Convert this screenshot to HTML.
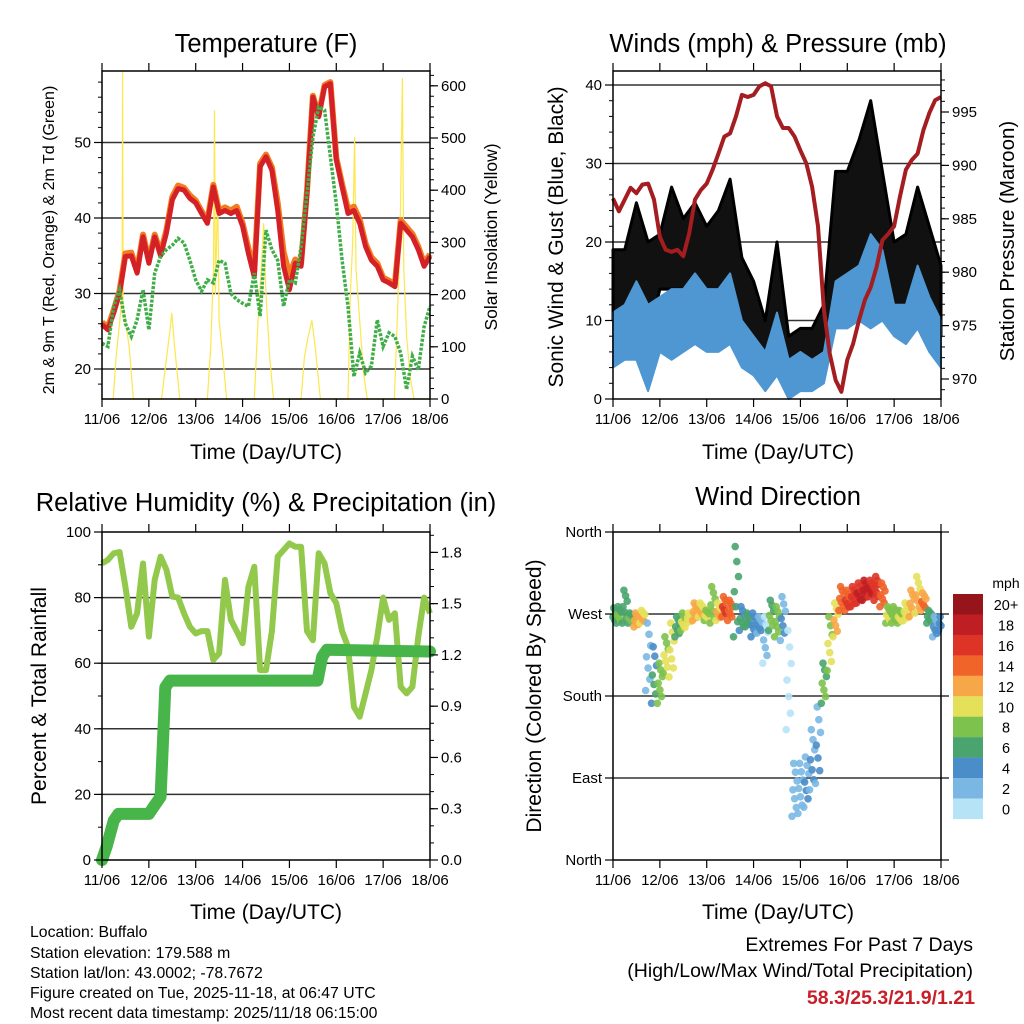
<!DOCTYPE html>
<html><head><meta charset="utf-8"><style>
html,body{margin:0;padding:0;background:#fff;}
svg{display:block;font-family:"Liberation Sans",Arial,sans-serif;}
</style></head><body>
<svg id="chart" width="1024" height="1024" viewBox="0 0 1024 1024" xmlns="http://www.w3.org/2000/svg">
<rect x="0" y="0" width="1024" height="1024" fill="#fff"/>
<text x="266" y="52" font-size="25.5" text-anchor="middle">Temperature (F)</text>
<text x="778" y="52" font-size="25.5" text-anchor="middle">Winds (mph) &amp; Pressure (mb)</text>
<text x="266" y="511" font-size="25.5" text-anchor="middle">Relative Humidity (%) &amp; Precipitation (in)</text>
<text x="778" y="505" font-size="25.5" text-anchor="middle">Wind Direction</text>
<text x="266" y="459" font-size="21" text-anchor="middle">Time (Day/UTC)</text>
<text x="778" y="459" font-size="21" text-anchor="middle">Time (Day/UTC)</text>
<text x="266" y="919" font-size="21" text-anchor="middle">Time (Day/UTC)</text>
<text x="778" y="919" font-size="21" text-anchor="middle">Time (Day/UTC)</text>
<text transform="translate(54,240) rotate(-90)" font-size="16" text-anchor="middle">2m &amp; 9m T (Red, Orange) &amp; 2m Td (Green)</text>
<text transform="translate(497,237) rotate(-90)" font-size="17.5" text-anchor="middle">Solar Insolation (Yellow)</text>
<text transform="translate(563,237) rotate(-90)" font-size="21" text-anchor="middle">Sonic Wind &amp; Gust (Blue, Black)</text>
<text transform="translate(1014,241) rotate(-90)" font-size="20.5" text-anchor="middle">Station Pressure (Maroon)</text>
<text transform="translate(46,696) rotate(-90)" font-size="21" text-anchor="middle">Percent &amp; Total Rainfall</text>
<text transform="translate(541,696) rotate(-90)" font-size="21" text-anchor="middle">Direction (Colored By Speed)</text>
<g font-size="15.8">
<text x="30" y="937">Location: Buffalo</text>
<text x="30" y="958">Station elevation: 179.588 m</text>
<text x="30" y="978">Station lat/lon: 43.0002; -78.7672</text>
<text x="30" y="998">Figure created on Tue, 2025-11-18, at 06:47 UTC</text>
<text x="30" y="1018">Most recent data timestamp: 2025/11/18 06:15:00</text>
</g>
<text x="973" y="951" font-size="19.5" text-anchor="end">Extremes For Past 7 Days</text>
<text x="973" y="977" font-size="19.5" text-anchor="end">(High/Low/Max Wind/Total Precipitation)</text>
<text x="975" y="1004" font-size="19.5" font-weight="bold" fill="#c8202a" text-anchor="end">58.3/25.3/21.9/1.21</text>
<g id="layer"></g>
</svg>
<script>
// ---- data ----
const days = ["11/06","12/06","13/06","14/06","15/06","16/06","17/06","18/06"];
const tStep = 0.125;
const temp2m = [25.9,25.2,27.4,30,34.9,35,32.7,37.5,34,37.5,35,38,42.4,43.9,43.7,42.6,42,40.6,39.3,44.1,40.6,41,40.6,41,38.9,35.3,32.2,46.8,48.1,46.3,41,33.6,30.5,34,33.6,43.3,56,53.4,57.4,57.8,47.7,44.1,40.6,41,39.3,36.2,34.4,33.6,31.8,31.4,30.9,39.3,38.4,37.5,35.8,33.6,34.9];
const temp9m = [26.2,25.5,27.8,30.4,35.3,35.4,33,37.8,34.4,37.8,35.4,38.4,42.8,44.3,44,43,42.3,40.9,39.6,44.4,41,41.4,41,41.5,39.3,36,33,47.2,48.4,46.7,42,35.5,32.5,34.5,34,43.6,56.2,53.6,57.6,58,48,44.5,41.2,41.5,39.8,36.6,34.8,34,32.1,31.7,31.2,39.7,38.8,37.9,36.2,34,35.2];
const dewpt = [23.4,23,28.3,30.5,26,24.3,26.5,30.5,25.2,32.7,34.9,35.8,36.4,37.3,36.7,34.4,31.8,30.3,31.8,31.4,34.4,34,30,29.2,28.7,28.3,32.7,27,38.4,35.8,34.4,28.3,31.8,31.4,36.2,43.3,50.7,54.7,54.3,48.1,41.9,34.4,28.3,19,22.1,19.5,20.4,26.5,23,24.8,24.3,22.1,17.3,21.7,19.9,25.6,28.3];
const solarT = [0,0.24,0.3,0.38,0.43,0.44,0.45,0.5,0.58,0.67,1.27,1.35,1.45,1.49,1.55,1.66,2.25,2.32,2.38,2.40,2.42,2.47,2.5,2.58,2.66,3.25,3.33,3.4,3.45,3.5,3.58,3.66,4.25,4.32,4.4,4.48,4.55,4.66,5.25,5.3,5.35,5.39,5.42,5.5,5.58,5.66,6.24,6.3,6.36,6.41,6.44,6.5,6.58,6.66,7];
const solarV = [0,0,80,150,200,629,180,150,100,0,0,60,130,165,100,0,0,100,250,553,200,400,150,80,0,0,150,250,337,200,80,0,0,80,120,151,100,0,0,200,300,502,250,150,50,0,0,150,300,615,250,120,40,0,0];
const pressure = [986.9,985.7,986.8,987.9,987.4,988.2,988.3,986.8,983.3,982.1,981.9,982.1,981.5,983.6,986.8,987.7,988.3,989.6,991.1,992.7,993,994.6,996.6,996.4,996.6,997.4,997.7,997.4,994.6,993.5,993.5,992.7,991.4,990.2,988,984.3,976.5,972.4,969.9,968.8,971.8,973.3,975.5,977.4,978.6,980.5,983,983.6,984.3,987.1,989.6,990.5,991.1,993.3,994.9,996.1,996.4];
const wStep = 0.25;
const windLo = [4,5,5,1,6,5,6,7,6,6,7,4,3,1,3,0,1,1,2,9,9,10,9,10,8,7,9,6,4];
const windHi = [11,12,15,12,13,14,14,16,14,14,16,10,8,6,11,5,6,5,6,15,16,17,21,19,12,12,17,13,10];
const gustLo = [10,12,14,8,14,14,14,15,13,13,13,8,5,3,9,2,3,3,4,13,14,15,17,14,11,12,15,12,8];
const gustHi = [19,19,25,20,21,27,23,25,22,24,28,18,15,10,20,8,9,9,12,29,29,33,38,29,20,21,27,22,17];
const rh = [90.4,91.5,93.5,93.9,83.3,71.1,75.2,90.4,68.1,85.4,92.5,88.5,80.3,80,75.2,71.1,69.1,69.8,69.8,61,63,85.4,73.2,69.8,66.1,83.3,89.4,57.9,57.9,69.8,92.5,94.5,96.5,95.5,95.5,69.8,67,93.5,90.4,81.3,78.3,69.8,65,46.7,43.7,50.8,57.9,68.1,80,73.2,75.2,52.8,50.8,52.8,68.1,80,75.2];
const precipT = [0,0.1,0.25,0.35,1.0,1.1,1.25,1.35,1.45,4.6,4.7,4.8,7.0];
const precipV = [0,0.08,0.23,0.27,0.27,0.31,0.37,1.01,1.05,1.05,1.19,1.23,1.22];
const dirLo = [260,260,260,260,256,260,186,172,172,205,201,245,252,260,263,267,263,260,263,267,263,245,252,256,245,249,216,252,245,241,143,48,51,58,77,84,172,208,245,274,274,278,282,285,289,285,278,260,260,260,263,267,271,274,260,245,252];
const dirHi = [280,278,296,271,271,274,260,234,216,245,260,267,271,271,282,282,274,300,282,289,285,344,278,271,271,267,267,285,278,289,252,106,106,113,143,168,216,267,282,300,296,300,304,307,307,311,304,278,278,274,282,296,311,293,274,267,267];
const dirSpd = [7,8,7,8,13,12,3,6,9,10,11,7,10,11,13,12,10,9,12,16,15,7,6,7,5,4,2,8,9,4,1,3,3,4,4,4,8,10,12,15,16,17,18,19,18,17,15,10,9,10,11,13,12,14,7,4,5];
const spdColors = ["#b7e3f7","#7ab8e3","#4a8dc8","#4aa46e","#7dc24c","#e5e05a","#f7a747","#f0642a","#de3427","#bf1e24","#96151a"];
const cbLabels = ["20+","18","16","14","12","10","8","6","4","2","0"];

// ---- helpers ----
const NS = "http://www.w3.org/2000/svg";
const layer = document.getElementById("layer");
function mk(tag, attrs, parent){ const e=document.createElementNS(NS,tag); for(const k in attrs) e.setAttribute(k,attrs[k]); (parent||layer).appendChild(e); return e; }
const P1={x0:102,x1:430,y0:71,y1:399}, P2={x0:613,x1:941,y0:71,y1:399}, P3={x0:102,x1:430,y0:532,y1:860}, P4={x0:613,x1:941,y0:532,y1:860};
const xD = (p,d) => p.x0 + d*(p.x1-p.x0)/7;
const yT = v => 369 - (v-20)*7.55;
const yS = v => 399 - v*0.522;
const yP = v => 379 - (v-970)*10.68;
const yW = v => 399 - v*7.85;
const yR = v => 860 - v*3.28;
const yPr = v => 860 - v*170.9;
const yD = v => 860 - v*328/360;
function pts(p, ts, vs, yf){ return vs.map((v,i)=>xD(p,ts(i)).toFixed(1)+","+yf(v).toFixed(1)).join(" "); }

function grid(p, vals, yf, name){ vals.forEach(v=>{ const l=mk("line",{x1:p.x0,x2:p.x1,y1:yf(v),y2:yf(v),stroke:"#333","stroke-width":1.5});
 
  }); }
function frame(p, name){ const r=mk("rect",{x:p.x0,y:p.y0,width:p.x1-p.x0,height:p.y1-p.y0,fill:"none",stroke:"#000","stroke-width":1.5});
 
  }
function xAxis(p, name){ days.forEach((lab,i)=>{ const x=xD(p,i);
 const t=mk("line",{x1:x,x2:x,y1:p.y1,y2:p.y1+8,stroke:"#000","stroke-width":1.2});
 
 
 const t2=mk("line",{x1:x,x2:x,y1:p.y0,y2:p.y0-8,stroke:"#000","stroke-width":1.2});
 
 
 const tx=mk("text",{x:x,y:p.y1+25,"font-size":15,"text-anchor":"middle"}); tx.textContent=lab;
 
  }); }
function yAxis(p, side, ticks, labels, minor, yf, name){ const xe = side==="L"?p.x0:p.x1, dir = side==="L"?-1:1;
 minor.forEach(v=>{ const m=mk("line",{x1:xe,x2:xe+dir*4,y1:yf(v),y2:yf(v),stroke:"#000","stroke-width":1});
  
   });
 ticks.forEach((v,i)=>{ const y=yf(v);
  const t=mk("line",{x1:xe,x2:xe+dir*8,y1:y,y2:y,stroke:"#000","stroke-width":1.2});
  
  
  const tx=mk("text",{x:xe+dir*11,y:y+5,"font-size":15,"text-anchor":side==="L"?"end":"start"}); tx.textContent=labels[i];
  
   }); }
function range(a,b,s){ const r=[]; for(let v=a; v<=b+1e-9; v+=s) r.push(+v.toFixed(4)); return r; }

// ---- panel 1: temperature ----
grid(P1,[20,30,40,50],yT,"temp-gridline");
const sol=mk("polyline",{points:solarV.map((v,i)=>xD(P1,solarT[i]).toFixed(1)+","+yS(v).toFixed(1)).join(" "),fill:"none",stroke:"#fde74c","stroke-width":1.2});


const t9=mk("polyline",{points:pts(P1,i=>i*tStep,temp9m,yT),fill:"none",stroke:"#f47b20","stroke-width":6,"stroke-linejoin":"round"});


const t2=mk("polyline",{points:pts(P1,i=>i*tStep,temp2m,yT),fill:"none",stroke:"#d42027","stroke-width":5,"stroke-linejoin":"round"});


const td=mk("polyline",{points:pts(P1,i=>i*tStep,dewpt,yT),fill:"none",stroke:"#3fae49","stroke-width":3.5,"stroke-dasharray":"3 1.5"});


frame(P1,"temp-plot-frame"); xAxis(P1,"temp-x");
yAxis(P1,"L",[20,30,40,50],["20","30","40","50"],range(18,58,2),yT,"temp-y");
yAxis(P1,"R",[0,100,200,300,400,500,600],["0","100","200","300","400","500","600"],range(0,620,20),yS,"solar-y");

// ---- panel 2: winds & pressure ----
grid(P2,[10,20,30,40],yW,"wind-gridline");
const gi=windLo.map((_,i)=>i*wStep);
const gb=mk("polygon",{points:gustHi.map((v,i)=>xD(P2,gi[i]).toFixed(1)+","+yW(v).toFixed(1)).concat(gustLo.map((v,i)=>xD(P2,gi[i]).toFixed(1)+","+yW(v).toFixed(1)).reverse()).join(" "),fill:"#111",stroke:"#000","stroke-width":3,"stroke-linejoin":"round"});


const wb=mk("polygon",{points:windHi.map((v,i)=>xD(P2,gi[i]).toFixed(1)+","+yW(v).toFixed(1)).concat(windLo.map((v,i)=>xD(P2,gi[i]).toFixed(1)+","+yW(v).toFixed(1)).reverse()).join(" "),fill:"#4f97d2",stroke:"#4f97d2","stroke-width":2,"stroke-linejoin":"round"});


const pl=mk("polyline",{points:pts(P2,i=>i*tStep,pressure,yP),fill:"none",stroke:"#a31d21","stroke-width":4,"stroke-linejoin":"round"});


frame(P2,"winds-plot-frame"); xAxis(P2,"winds-x");
yAxis(P2,"L",[0,10,20,30,40],["0","10","20","30","40"],range(0,40,2),yW,"wind-y");
yAxis(P2,"R",[970,975,980,985,990,995],["970","975","980","985","990","995"],range(969,998,1),yP,"pressure-y");

// ---- panel 3: RH & precip ----
grid(P3,[20,40,60,80],yR,"rh-gridline");
const rl=mk("polyline",{points:pts(P3,i=>i*tStep,rh,yR),fill:"none",stroke:"#92c84b","stroke-width":6,"stroke-linejoin":"round"});


const pr=mk("polyline",{points:precipV.map((v,i)=>xD(P3,precipT[i]).toFixed(1)+","+yPr(v).toFixed(1)).join(" "),fill:"none",stroke:"#47b549","stroke-width":12,"stroke-linejoin":"round","stroke-linecap":"round"});


frame(P3,"rh-plot-frame"); xAxis(P3,"rh-x");
yAxis(P3,"L",[0,20,40,60,80,100],["0","20","40","60","80","100"],range(0,100,10),yR,"rh-y");
yAxis(P3,"R",[0,0.3,0.6,0.9,1.2,1.5,1.8],["0.0","0.3","0.6","0.9","1.2","1.5","1.8"],range(0,1.9,0.1),yPr,"precip-y");

// ---- panel 4: wind direction ----
grid(P4,[90,180,270],yD,"dir-gridline");
const colorFor = s => spdColors[Math.min(10, Math.max(0, Math.floor(s/2)))];
dirSpd.forEach((s,i)=>{ for(let k=0;k<7;k++){
 const d=i*tStep+(k-3)*0.018; if(d<0||d>7) continue;
 const v=dirLo[i]+((k*3)%7)*(dirHi[i]-dirLo[i])/6;
 const c=mk("circle",{cx:xD(P4,d).toFixed(1),cy:yD(v).toFixed(1),r:3.8,fill:colorFor(s+(k%2?1:-1)*0.9),"fill-opacity":0.9});
 
  } });
frame(P4,"dir-plot-frame"); xAxis(P4,"dir-x");
yAxis(P4,"L",[0,90,180,270,360],["North","East","South","West","North"],[],yD,"dir-y");
yAxis(P4,"R",[0,90,180,270,360],["","","","",""],[],yD,"dir-y-right");

// colorbar
const cbT=mk("text",{x:1006,y:588,"font-size":14,"text-anchor":"middle"}); cbT.textContent="mph";


cbLabels.forEach((lab,i)=>{ const y=594+i*20.45;
 const r=mk("rect",{x:953,y:y,width:30,height:20.6,fill:spdColors[10-i]});
 
 
 const t=mk("text",{x:1006,y:y+16,"font-size":14.5,"text-anchor":"middle"}); t.textContent=lab;
 
  });
</script>
</body></html>
